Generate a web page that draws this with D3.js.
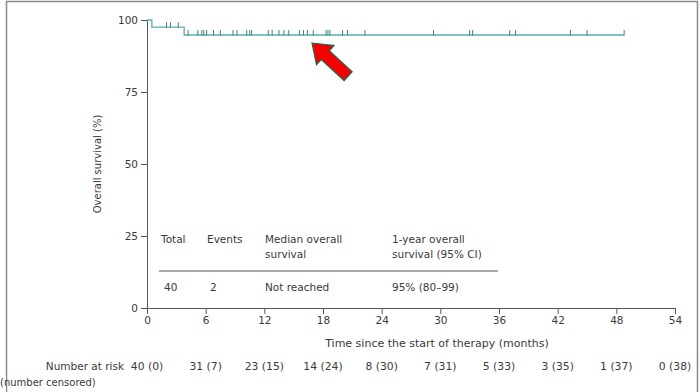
<!DOCTYPE html>
<html>
<head>
<meta charset="utf-8">
<script src="https://cdn.jsdelivr.net/npm/d3@7"></script>
<style>
  html, body { margin: 0; padding: 0; background: #fff; }
  svg { display: block; }
  text { font-family: "DejaVu Sans", sans-serif; fill: #3a3a3a; }
</style>
</head>
<body>
<svg id="chart" width="700" height="392"></svg>
<script>
// Kaplan–Meier overall survival, months since start of therapy
const xTicks = [0, 6, 12, 18, 24, 30, 36, 42, 48, 54];
const yTicks = [0, 25, 50, 75, 100];

// step points of the survival curve (time in months, survival %)
const stepTimes = [0, 0.5, 3.8];
const stepSurvival = [100, 97.5, 94.8];
const followUpEnd = 48.8;

// censored patients (months)
const censorTimes = [2.0, 2.4, 3.2, 4.2, 5.2, 5.6, 5.8,
  6.1, 6.8, 7.5, 8.8, 9.2, 10.2, 10.5, 10.7,
  12.4, 12.8, 13.5, 14.0, 14.5, 15.6, 16.0, 16.4, 17.0,
  18.3, 18.5, 18.7, 20.0, 20.5, 22.3,
  29.3, 33.0, 33.3, 37.1, 37.7, 43.3, 45.0, 48.8];

// number at risk (number censored) at each x tick
const atRisk = [40, 31, 23, 14, 8, 7, 5, 3, 1, 0];
const numCensored = [0, 7, 15, 24, 30, 31, 33, 35, 37, 38];

// summary table
const tableHeaders = [["Total"], ["Events"], ["Median overall", "survival"], ["1-year overall", "survival (95% CI)"]];
const tableRow = ["40", "2", "Not reached", "95% (80–99)"];

const svg = d3.select("#chart");

const x = d3.scaleLinear().domain([0, 54]).range([147, 675]);
const y = d3.scaleLinear().domain([0, 100]).range([308, 20]);

const axisColor = "#555";
const curveColor = "#5aaeb0";
const tickColor = "#3c8486";

// outer frame
svg.append("path")
  .attr("d", "M6.5,392 V1.5 H697.5 V392")
  .attr("fill", "none").attr("stroke", "#8a8a8a").attr("stroke-width", 1.5);
svg.append("rect").attr("x", 0).attr("y", 376).attr("width", 6).attr("height", 16).attr("fill", "#fff");

// axes
const yAxis = d3.axisLeft(y).tickValues(yTicks).tickSize(6).tickPadding(3);
const gy = svg.append("g").attr("transform", `translate(${x(0)},0)`).call(yAxis);
gy.select(".domain").attr("stroke", axisColor);
gy.selectAll(".tick line").attr("stroke", axisColor);
gy.selectAll(".tick text").style("font-size", "10.5px").attr("fill", "#3a3a3a");

const xAxis = d3.axisBottom(x).tickValues(xTicks).tickSize(6).tickPadding(3).tickSizeOuter(0);
const gx = svg.append("g").attr("transform", `translate(0,${y(0)})`).call(xAxis);
gx.select(".domain").attr("stroke", axisColor);
gx.selectAll(".tick line").attr("stroke", axisColor);
gx.selectAll(".tick text").style("font-size", "10.5px").attr("fill", "#3a3a3a");

// axis titles
svg.append("text")
  .attr("transform", `translate(97,${y(50)}) rotate(-90)`)
  .attr("text-anchor", "middle").attr("dy", "0.35em")
  .style("font-size", "10px")
  .text("Overall survival (%)");

svg.append("text")
  .attr("x", 437).attr("y", 343).attr("dy", "0.35em")
  .attr("text-anchor", "middle")
  .style("font-size", "11px")
  .text("Time since the start of therapy (months)");

// survival curve
const curvePts = stepTimes.map((t, i) => [t, stepSurvival[i]]);
curvePts.push([followUpEnd, stepSurvival[stepSurvival.length - 1]]);
const line = d3.line().x(d => x(d[0])).y(d => y(d[1])).curve(d3.curveStepAfter);
svg.append("path").datum(curvePts)
  .attr("d", line).attr("fill", "none")
  .attr("stroke", curveColor).attr("stroke-width", 1.3);

// censor marks
const bis = d3.bisector(d => d).right;
const survivalAt = t => stepSurvival[Math.max(0, bis(stepTimes, t) - 1)];
svg.append("g").selectAll("line").data(censorTimes).join("line")
  .attr("x1", d => x(d)).attr("x2", d => x(d))
  .attr("y1", d => y(survivalAt(d)) - 5).attr("y2", d => y(survivalAt(d)) + 0.5)
  .attr("stroke", tickColor).attr("stroke-width", 1);

// summary table inside the plot
const colX = [161, 207, 265, 392];
tableHeaders.forEach((lines, i) => {
  lines.forEach((s, j) => {
    svg.append("text").attr("x", colX[i]).attr("y", 239 + j * 15).attr("dy", "0.35em")
      .style("font-size", "10.5px").attr("fill", "#222").text(s);
  });
});
svg.append("line").attr("x1", 159).attr("x2", 498).attr("y1", 271).attr("y2", 271)
  .attr("stroke", "#555").attr("stroke-width", 1);
tableRow.forEach((s, i) => {
  svg.append("text").attr("x", colX[i] + (i < 2 ? 3 : 0)).attr("y", 287).attr("dy", "0.35em")
    .style("font-size", "10.5px").attr("fill", "#333").text(s);
});

// number at risk row
svg.append("text").attr("x", 124).attr("y", 366).attr("dy", "0.35em")
  .attr("text-anchor", "end").style("font-size", "10.5px").text("Number at risk");
svg.append("text").attr("x", 0).attr("y", 382).attr("dy", "0.35em")
  .style("font-size", "10px").text("(number censored)");
svg.append("g").selectAll("text").data(xTicks).join("text")
  .attr("x", d => x(d)).attr("y", 366).attr("dy", "0.35em")
  .attr("text-anchor", "middle").style("font-size", "10.8px")
  .text((d, i) => `${atRisk[i]} (${numCensored[i]})`);

// red pointer arrow
const arrowLocal = [[0, 0], [18, -13], [18, -6], [49, -6], [49, 6], [18, 6], [18, 13]];
svg.append("path")
  .attr("d", d3.line()(arrowLocal) + "Z")
  .attr("transform", "translate(312,43) rotate(42.5)")
  .attr("fill", "#f40000").attr("stroke", "#1f6b4e").attr("stroke-width", 1.2)
  .attr("stroke-linejoin", "miter");
</script>
</body>
</html>
